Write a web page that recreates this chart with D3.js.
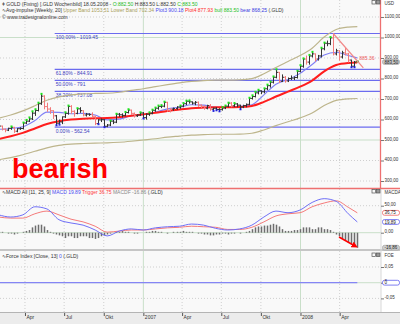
<!DOCTYPE html>
<html>
<head>
<meta charset="utf-8">
<script src="https://cdn.jsdelivr.net/npm/d3@7/dist/d3.min.js"></script>
<style>
  body { margin: 0; background: #fff; }
  svg text { font-family: "Liberation Sans", Arial, sans-serif; }
</style>
</head>
<body>
<div id="chart"></div>
<script>
// weekly gold fixing bars, week of 30.01.2006 up to week of 12.05.2008
const firstMonday = new Date(2006, 0, 30)
const lastMonday = new Date(2008, 4, 12)

const open = [566, 568, 553, 548, 557, 562, 543, 555, 556, 583, 592, 603, 631, 644, 677, 714, 663, 651, 643, 618,
  582, 588, 613, 630, 664, 640, 630, 652, 643, 622, 626, 624, 616, 580, 598, 599, 567, 573, 592, 587,
  626, 623, 620, 634, 646, 630, 618, 622,
  632, 609, 626, 630, 645, 655, 664, 665, 684, 645, 651, 654, 661, 665, 677, 689, 686, 680, 684, 670,
  665, 655, 668, 650, 655, 649, 648, 656, 665, 680, 667, 676, 670, 661, 668, 674, 703, 712, 730, 740,
  735, 750, 765, 782, 806, 830, 786, 806, 788, 800, 802, 805, 835,
  860, 895, 880, 910, 920, 895, 910, 945, 972, 970, 998, 920, 935, 905, 925, 920, 890, 860, 882.5]
const high = [572, 570, 556, 560, 566, 564, 558, 562, 585, 598, 610, 640, 650, 682, 725, 718, 682, 660, 645, 622,
  600, 615, 635, 668, 670, 645, 655, 660, 645, 632, 630, 635, 618, 602, 605, 601, 578, 595, 598, 628,
  632, 630, 637, 650, 648, 634, 625, 635,
  636, 630, 635, 648, 658, 668, 670, 687, 686, 655, 658, 665, 668, 680, 692, 693, 688, 690, 688, 673,
  668, 672, 675, 658, 660, 655, 660, 668, 682, 685, 680, 680, 672, 672, 678, 706, 718, 735, 745, 742,
  752, 770, 785, 810, 845, 832, 820, 812, 805, 815, 810, 838, 865,
  898, 912, 915, 930, 922, 915, 950, 975, 985, 1002, 1019.45, 945, 938, 935, 950, 925, 892, 885, 883.5]
const low = [556, 549, 540, 546, 552, 537, 540, 552, 554, 580, 590, 600, 620, 642, 674, 652, 640, 630, 605, 572,
  575, 580, 610, 626, 630, 616, 628, 635, 618, 617, 620, 610, 575, 577, 590, 562.54, 565, 570, 580, 585,
  615, 612, 618, 632, 625, 612, 615, 620,
  605, 602, 620, 628, 640, 650, 658, 662, 640, 637, 645, 650, 655, 662, 673, 680, 675, 672, 664, 658,
  650, 652, 645, 642, 645, 640, 646, 653, 662, 662, 663, 662, 650, 658, 662, 672, 700, 710, 725, 726,
  730, 745, 758, 778, 804, 780, 785, 782, 785, 795, 795, 803, 833,
  855, 870, 870, 905, 885, 890, 905, 940, 960, 965, 915, 915, 890, 900, 915, 880, 855, 855, 882.5]
const close = [568, 553, 548, 557, 562, 543, 555, 556, 583, 592, 603, 631, 644, 677, 714, 663, 651, 643, 618, 582,
  588, 613, 630, 664, 640, 630, 652, 643, 622, 626, 624, 616, 580, 598, 599, 567, 573, 592, 587, 626,
  623, 620, 634, 646, 630, 618, 622, 632,
  609, 626, 630, 645, 655, 664, 665, 684, 645, 651, 654, 661, 665, 677, 689, 686, 680, 684, 670, 665,
  655, 668, 650, 655, 649, 648, 656, 665, 680, 667, 676, 670, 661, 668, 674, 703, 712, 730, 740, 735,
  750, 765, 782, 806, 830, 786, 806, 788, 800, 802, 805, 835, 860,
  895, 880, 910, 920, 895, 910, 945, 972, 970, 998, 920, 935, 905, 925, 920, 890, 860, 880, 883.5]
// g = bull marker, r = bear bar, b = bear marker, n = plain
const impulse = 'nrrngrnngg' + 'gggggrrrrb' + 'bnggrrgnrn' + 'nrrbnbngng' + 'nnggrrngbn' + 'ggggggrrnn' +
  'ggggnnrrrn' + 'rbbbgggrgn' + 'bnnggggngg' + 'gggrnrnnng' + 'ggrggrnggn' + 'grnrnrrbbg'

// smooth studies, read every 4th week plus the last one
const studyWeeks = d3.range(0, 120, 4).concat([119])
const plot3 = [552, 556, 565, 595, 636, 635, 628, 630, 622, 598, 602, 618, 624, 636, 652, 660, 672, 670, 660, 660,
  664, 672, 720, 772, 795, 825, 868, 915, 928, 912, 900.18]
const plot4 = [505, 518, 535, 556, 578, 592, 600, 604, 606, 607, 611, 618, 625, 633, 642, 649, 655, 658, 660, 660,
  661, 666, 686, 712, 736, 760, 790, 835, 866, 876, 877.93]
const upperBand = [606, 622, 642, 667, 694, 710, 720, 725, 727, 728, 733, 742, 750, 760, 770, 779, 786, 790, 792, 792,
  793, 799, 823, 854, 883, 912, 948, 1002, 1039, 1051, 1053.51]
const lowerBand = [404, 414, 428, 445, 462, 474, 480, 483, 485, 486, 489, 494, 500, 506, 514, 519, 524, 526, 528, 528,
  529, 533, 549, 570, 589, 608, 632, 668, 693, 701, 702.34]
const macd = [33, 29, 33, 48, 44, 24, 18, 14, 5, -6, 3, 7, 5, 9, 11, 12, 16, 14, 8, 5,
  7, 14, 29, 40, 37, 42, 56, 63, 58, 35, 19.89]
const trigger = [29, 27, 27, 35, 40, 33, 25, 20, 12, 1, 3, 5, 5, 7, 9, 10, 12, 11, 10, 6,
  6, 10, 20, 31, 35, 37, 48, 55, 59, 47, 36.75]
// weekly MACDF histogram
const macdf = [1, 1, 0, -1, -1, -2, -1, 0, 1, 2, 3, 6, 8, 9, 9, 7, 3, 1, -1,
  -2, -3, -4, -6, -4, -4, -6, -6, -4, -4, -4, -6, -6, -7, -6, -4, -3,
  -2, -1, 0, 1, 1, 2, 1, 1, 0, -1, -1, 0, 0, 1, 1, 2, 2, 1, 1, 0, -1, 0, 1, 1, 1, 2, 1, 1, 1, 0, -1,
  -1, -2, -2, -3, -3, -2, -2, -1, -1, -2, -1, -1, 0, -1, 0, 1,
  2, 4, 6, 7, 7, 8, 8, 9, 10, 9, 7, 4, 2, 2, 2, 3, 3,
  4, 6, 6, 6, 4, 4, 6, 6, 4, 4, 3, 1, -2, -4, -7, -9, -11, -13, -15, -16.86]
const forceWeeks = [0, 119]
const forceIndex = [0, 0]

// fibonacci retracement and trend line
const fibLevels = [1019.45, 844.91, 791, 737.08, 562.54]
const fibLabels = ['100.00% - 1019.45', '61.80% - 844.91', '50.00% - 791', '38.20% - 737.08', '0.00% - 562.54']
const fibStart = new Date(2006, 5, 9)
const trendDates = [new Date(2008, 2, 17), new Date(2008, 4, 12), new Date(2008, 4, 26)]
const trendValues = [1019.45, 885.36, 851.84]

const priceTicks = [300, 400, 500, 600, 700, 800, 900, 1000, 1100]
const macdTicks = [0, 50]
const forceTicks = [-0.05, 0, 0.05]
const timeTicks = [new Date(2006, 3, 1), new Date(2006, 6, 1), new Date(2006, 9, 1), new Date(2007, 0, 1),
  new Date(2007, 3, 1), new Date(2007, 6, 1), new Date(2007, 9, 1), new Date(2008, 0, 1), new Date(2008, 3, 1)]
const timeLabels = ['Apr', 'Jul', 'Okt', '2007', 'Apr', 'Jul', 'Okt', '2008', 'Apr']

const weeks = d3.timeMonday.range(firstMonday, d3.timeDay.offset(lastMonday, 1))

// layout
const plotW = 381
const pricePanel = { top: 0, bottom: 188 }
const macdPanel = { top: 189, bottom: 249 }
const forcePanel = { top: 251, bottom: 312 }

const x = d3.scaleTime().domain([new Date(2006, 1, 2), new Date(2008, 6, 6)]).range([0, plotW])
const yPrice = d3.scaleLinear().domain([265.9, 1182.9]).range([pricePanel.bottom, pricePanel.top])
const yMacd = d3.scaleLinear().domain([-30.2, 80.9]).range([macdPanel.bottom, macdPanel.top])
const yHist = d3.scaleLinear().domain([-18.3, 49.1]).range([macdPanel.bottom, macdPanel.top])
const yForce = d3.scaleLinear().domain([-0.0933, 0.101]).range([forcePanel.bottom, forcePanel.top])

const fmt = v => v.toFixed(2).replace('.', ',')
const axisFont = 4.5

const svg = d3.select('#chart').append('svg')
  .attr('width', 400)
  .attr('height', 324)

svg.append('rect').attr('width', 400).attr('height', 324).attr('fill', '#ffffff')

const defs = svg.append('defs')
function panelGroup (p, id) {
  defs.append('clipPath').attr('id', id)
    .append('rect').attr('x', 0).attr('y', p.top).attr('width', plotW).attr('height', p.bottom - p.top)
  svg.append('rect').attr('x', 0).attr('y', p.top).attr('width', plotW).attr('height', p.bottom - p.top)
    .attr('fill', '#f9f9f9')
  return svg.append('g').attr('clip-path', `url(#${id})`)
}

const gPrice = panelGroup(pricePanel, 'clip-price')
const gMacd = panelGroup(macdPanel, 'clip-macd')
const gForce = panelGroup(forcePanel, 'clip-force')

// vertical grid in every panel
;[[gPrice, pricePanel], [gMacd, macdPanel], [gForce, forcePanel]].forEach(([g, p]) => {
  g.selectAll('line.vgrid')
    .data(timeTicks)
    .enter().append('line')
    .attr('x1', d => x(d)).attr('x2', d => x(d))
    .attr('y1', p.top).attr('y2', p.bottom)
    .attr('stroke', d => d.getMonth() === 0 ? '#c9dfc9' : '#cfcfcf')
    .attr('stroke-dasharray', d => d.getMonth() === 0 ? null : '1,2')
})

function hGrid (g, scale, ticks, major) {
  g.selectAll(null)
    .data(ticks)
    .enter().append('line')
    .attr('x1', 0).attr('x2', plotW)
    .attr('y1', d => scale(d)).attr('y2', d => scale(d))
    .attr('stroke', d => major(d) ? '#c9dfc9' : '#cfcfcf')
    .attr('stroke-dasharray', d => major(d) ? null : '1,2')
}
hGrid(gPrice, yPrice, priceTicks, d => d % 500 === 0)
hGrid(gMacd, yMacd, macdTicks, d => d === 0)
hGrid(gForce, yForce, forceTicks, d => d === 0)

// fibonacci lines
gPrice.selectAll('line.fib')
  .data(fibLevels)
  .enter().append('line')
  .attr('x1', x(fibStart)).attr('x2', plotW)
  .attr('y1', d => yPrice(d)).attr('y2', d => yPrice(d))
  .attr('stroke', '#6b6bef')
  .attr('stroke-width', 1.2)
gPrice.selectAll('text.fib')
  .data(fibLevels)
  .enter().append('text')
  .attr('x', x(fibStart) + 1)
  .attr('y', d => yPrice(d) + 5.5)
  .attr('font-size', 5)
  .attr('fill', '#4040c0')
  .text((d, i) => fibLabels[i])

// bands and averages
const studyLine = (scale, values) => d3.line()
  .x((d, i) => x(weeks[d]))
  .y((d, i) => scale(values[i]))
  .curve(d3.curveMonotoneX)(studyWeeks)

gPrice.append('path').attr('d', studyLine(yPrice, upperBand))
  .attr('fill', 'none').attr('stroke', '#bdb58c').attr('stroke-width', 1.2)
gPrice.append('path').attr('d', studyLine(yPrice, lowerBand))
  .attr('fill', 'none').attr('stroke', '#bdb58c').attr('stroke-width', 1.2)
gPrice.append('path').attr('d', studyLine(yPrice, plot3))
  .attr('fill', 'none').attr('stroke', '#7f7ff5').attr('stroke-width', 1.1)
gPrice.append('path').attr('d', studyLine(yPrice, plot4))
  .attr('fill', 'none').attr('stroke', '#ff1e1e').attr('stroke-width', 2)

// OHLC bars
const bars = gPrice.append('g')
weeks.forEach((w, i) => {
  const cx = Math.round(x(w)) + 0.5
  const col = impulse[i] === 'r' ? '#f27a7a' : '#333333'
  bars.append('line').attr('x1', cx).attr('x2', cx)
    .attr('y1', yPrice(high[i])).attr('y2', yPrice(low[i]) + 0.5)
    .attr('stroke', col)
  bars.append('line').attr('x1', cx - 1.5).attr('x2', cx)
    .attr('y1', yPrice(open[i])).attr('y2', yPrice(open[i]))
    .attr('stroke', col)
  bars.append('line').attr('x1', cx).attr('x2', cx + 1.5)
    .attr('y1', yPrice(close[i])).attr('y2', yPrice(close[i]))
    .attr('stroke', col)
  if (impulse[i] === 'g') {
    bars.append('rect').attr('x', cx - 1).attr('y', yPrice(high[i]) - 1)
      .attr('width', 2).attr('height', 2).attr('fill', '#19e619')
  } else if (impulse[i] === 'b') {
    bars.append('rect').attr('x', cx - 1).attr('y', yPrice(low[i]) - 1)
      .attr('width', 2).attr('height', 2).attr('fill', '#2222dd')
  }
})

// trend line from the top
gPrice.append('path')
  .attr('d', d3.line().x(d => x(d)).y((d, i) => yPrice(trendValues[i]))(trendDates))
  .attr('fill', 'none').attr('stroke', '#f28b8b').attr('stroke-width', 1.2)
svg.append('text')
  .attr('x', x(trendDates[1]) + 2).attr('y', yPrice(trendValues[1]) - 1)
  .attr('font-size', 5).attr('fill', '#ee6060')
  .text(trendValues[1].toFixed(2))

// bearish note
svg.append('text')
  .attr('x', 12).attr('y', 178)
  .attr('font-size', 27).attr('font-weight', 'bold').attr('fill', '#ff0000')
  .text('bearish')

// MACD
gMacd.selectAll('rect.hist')
  .data(macdf)
  .enter().append('rect')
  .attr('x', (d, i) => Math.round(x(weeks[i])) - 0.25)
  .attr('y', d => Math.min(yHist(d), yHist(0)))
  .attr('width', 1.5)
  .attr('height', d => Math.abs(yHist(d) - yHist(0)))
  .attr('fill', '#6e6e6e')
gMacd.append('path').attr('d', studyLine(yMacd, trigger))
  .attr('fill', 'none').attr('stroke', '#f57a7a').attr('stroke-width', 1)
gMacd.append('path').attr('d', studyLine(yMacd, macd))
  .attr('fill', 'none').attr('stroke', '#6f6ff7').attr('stroke-width', 1)

// red arrow
defs.append('marker').attr('id', 'arrow').attr('viewBox', '0 0 10 10')
  .attr('refX', 5).attr('refY', 5).attr('markerWidth', 4).attr('markerHeight', 4)
  .attr('orient', 'auto')
  .append('path').attr('d', 'M0,0L10,5L0,10z').attr('fill', '#ff0000')
svg.append('line')
  .attr('x1', 339).attr('y1', 237).attr('x2', 355).attr('y2', 246)
  .attr('stroke', '#ff0000').attr('stroke-width', 1.6)
  .attr('marker-end', 'url(#arrow)')

// Force index
gForce.append('path')
  .attr('d', d3.line().x(d => x(weeks[d])).y((d, i) => yForce(forceIndex[i]))(forceWeeks))
  .attr('fill', 'none').attr('stroke', '#8585f5').attr('stroke-width', 1.3)

// panel frames
svg.append('rect').attr('y', 249).attr('width', 400).attr('height', 2).attr('fill', '#c6c6c6')
svg.append('line').attr('x1', 0).attr('x2', 400).attr('y1', 188.5).attr('y2', 188.5)
  .attr('stroke', '#ee7070').attr('stroke-width', 1.3)
svg.append('line').attr('x1', plotW - 0.5).attr('x2', plotW - 0.5).attr('y1', 0).attr('y2', 188.5)
  .attr('stroke', '#ee7070').attr('stroke-width', 1.3)
svg.append('line').attr('x1', plotW).attr('x2', plotW).attr('y1', 189).attr('y2', 312)
  .attr('stroke', '#d8d8d8')

// right axes, labels sit just above their tick
function rightAxis (scale, ticks, minor, fmtFn) {
  const g = svg.append('g').attr('transform', `translate(${plotW},0)`)
  g.call(d3.axisRight(scale).tickValues(minor).tickSize(2).tickFormat(''))
  g.call(d3.axisRight(scale).tickValues(ticks).tickSize(3).tickFormat(fmtFn))
  g.selectAll('.domain').remove()
  g.selectAll('line').attr('stroke', '#777')
  g.selectAll('text').attr('font-size', axisFont).attr('fill', '#333').attr('x', 3.5).attr('dy', '0.05em')
  return g
}
rightAxis(yPrice, priceTicks, d3.range(280, 1180, 20), fmt)
rightAxis(yMacd, macdTicks, d3.range(-30, 81, 10), fmt)
rightAxis(yForce, forceTicks, d3.range(-0.09, 0.1, 0.01), v => v === 0 ? '0' : v.toFixed(2).replace('.', ','))

function axisBox (y, label, fill, stroke) {
  svg.append('rect').attr('x', plotW + 1.5).attr('y', y - 2.4).attr('width', 17).attr('height', 4.8)
    .attr('rx', 2).attr('fill', fill).attr('stroke', stroke).attr('stroke-width', 0.8)
  svg.append('text').attr('x', plotW + 3.5).attr('y', y + 1.6).attr('font-size', axisFont)
    .attr('fill', '#222').text(label)
}
axisBox(yPrice(883.5) + 0.6, '883,50', '#c8c8c8', '#aaaaaa')
axisBox(yMacd(36.75), '36,75', '#ffffff', '#ee6060')
axisBox(yMacd(19.89), '19,89', '#ffffff', '#6060ee')
axisBox(yHist(-16.86), '-16,86', '#d0d0d0', '#aaaaaa')
axisBox(yForce(0), '0', '#ffffff', '#6060ee')

// panel captions on the axis
;[['USD', 4.5], ['MACDA', 193.5], ['FOE', 257]].forEach(([t, y]) => {
  svg.append('text').attr('x', plotW + 3.5).attr('y', y).attr('font-size', axisFont).attr('fill', '#333').text(t)
  svg.append('rect').attr('x', plotW - 9).attr('y', y - 4).attr('width', 3.5).attr('height', 3.5)
    .attr('fill', 'none').attr('stroke', '#555').attr('stroke-width', 0.7)
  svg.append('rect').attr('x', plotW - 4.5).attr('y', y - 4).attr('width', 3.5).attr('height', 3.5)
    .attr('fill', '#999').attr('stroke', '#555').attr('stroke-width', 0.7)
})

// time axis
svg.append('rect').attr('y', 312).attr('width', 400).attr('height', 12).attr('fill', '#ececec')
svg.append('line').attr('x1', 0).attr('x2', 400).attr('y1', 312.5).attr('y2', 312.5).attr('stroke', '#b4b4b4')
const gx = svg.append('g').attr('transform', 'translate(0,313)')
  .call(d3.axisBottom(x).tickValues(timeTicks).tickSize(3).tickFormat((d, i) => timeLabels[i]))
gx.selectAll('.domain').remove()
gx.selectAll('line').attr('stroke', '#555')
gx.selectAll('text').attr('font-size', 5).attr('fill', '#333')
  .attr('text-anchor', 'start').attr('dx', 1).attr('y', 2)

// captions
function caption (y, parts) {
  const t = svg.append('text').attr('x', 2).attr('y', y).attr('font-size', 5)
  parts.forEach(([s, c]) => t.append('tspan').attr('fill', c).text(s))
}
caption(5.5, [['ǂ GOLD (Fixing) [.GLD Wochenbild] 18.05.2008 - ', '#333'], ['O:882.50 ', '#22bb22'],
  ['H:883.50 L:882.50 ', '#333'], ['C:883.50', '#22bb22']])
caption(12, [['∿Avg-impulse [Weekly, 20] ', '#333'], ['Upper Band 1053.51 Lower Band 702.34 ', '#a89e5a'],
  ['Plot3 900.18 ', '#4b4bf0'], ['Plot4 877.93 ', '#ff2a2a'], ['bull 883.50 ', '#22c022'],
  ['bear 868.25 ', '#3a3ae0'], ['(.GLD)', '#333']])
caption(18.5, [['© www.tradesignalonline.com', '#333']])
caption(194, [['∿MACD All [11, 25, 9] ', '#333'], ['MACD 19.89 ', '#4b4bf0'], ['Trigger 36.75 ', '#ff3a3a'],
  ['MACDF -16.86 ', '#888'], ['(.GLD)', '#333']])
caption(257.5, [['∿Force Index [Close, 13] ', '#333'], ['0 ', '#4b4bf0'], ['(.GLD)', '#333']])
</script>
</body>
</html>
